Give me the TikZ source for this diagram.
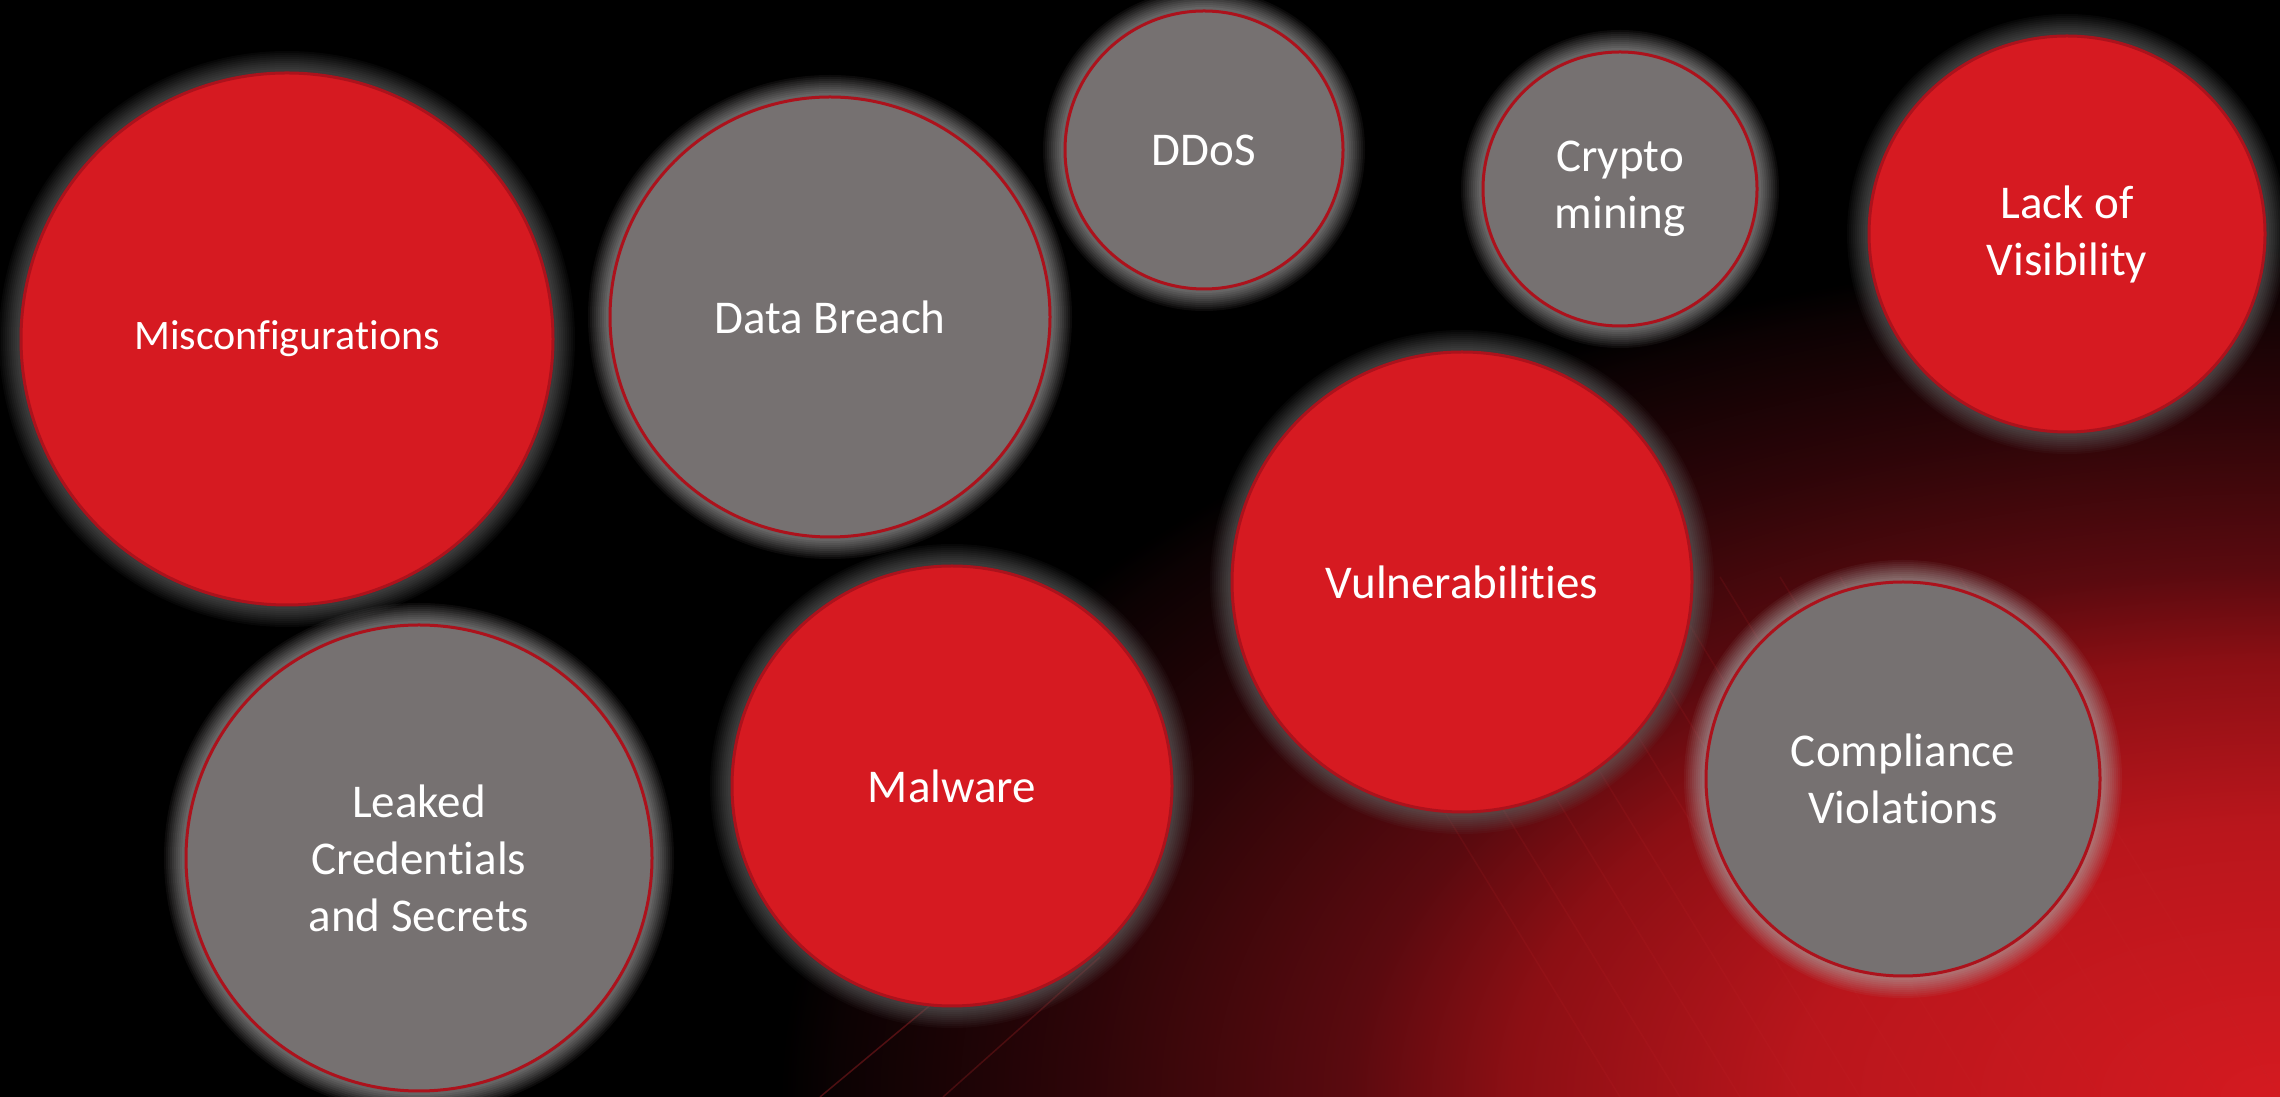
\documentclass[tikz,border=0pt]{standalone}
\usepackage{fontspec}
\setmainfont[Ligatures=NoCommon]{Carlito}

\definecolor{hotfill}{RGB}{214,26,33}
\definecolor{coolfill}{RGB}{118,113,113}
\definecolor{rim}{RGB}{172,18,28}
\definecolor{hothalo}{RGB}{100,100,100}
\definecolor{coolhalo}{RGB}{170,168,168}
\definecolor{glowA}{RGB}{212,26,32}
\definecolor{glowB}{RGB}{185,22,28}
\definecolor{glowC}{RGB}{140,15,20}
\definecolor{glowD}{RGB}{90,10,15}
\definecolor{glowE}{RGB}{45,5,8}
\definecolor{glowF}{RGB}{12,2,3}
\definecolor{streak}{RGB}{200,40,45}

% backdrop: red glow from the lower right corner
\pgfdeclareradialshading{backglow}{\pgfpoint{0bp}{0bp}}{color(0bp)=(glowA); color(8bp)=(glowB); color(12.8bp)=(glowC); color(15.5bp)=(glowD); color(20bp)=(glowE); color(24bp)=(glowF); color(25bp)=(black); color(50bp)=(black)}

\tikzset{
  bubble/.style={circle, inner sep=0pt, draw=rim, line width=3pt, text=white, align=center,
    font=\fontsize{47}{57}\selectfont},
  halo/.style={
    preaction={draw=#1, line width=44pt, draw opacity=.07},
    preaction={draw=#1, line width=40pt, draw opacity=.07},
    preaction={draw=#1, line width=36pt, draw opacity=.08},
    preaction={draw=#1, line width=32pt, draw opacity=.08},
    preaction={draw=#1, line width=28pt, draw opacity=.09},
    preaction={draw=#1, line width=24pt, draw opacity=.09},
    preaction={draw=#1, line width=20pt, draw opacity=.1},
    preaction={draw=#1, line width=16pt, draw opacity=.1},
    preaction={draw=#1, line width=12pt, draw opacity=.11},
    preaction={draw=#1, line width=8pt, draw opacity=.12}},
  hot/.style={bubble, fill=hotfill, halo=hothalo},
  cool/.style={bubble, fill=coolfill, halo=coolhalo}
}

\begin{document}
\begin{tikzpicture}[x=1pt,y=1pt]
  \useasboundingbox (0,0) rectangle (2280,1097);
  \fill[black] (0,0) rectangle (2280,1097);
  \begin{scope}
    \clip (0,0) rectangle (2280,1097);
    \shade[shading=backglow] (2280,0) ellipse (1500 and 850);
    % faint streaks
    \foreach \s in {0,60,...,660}
      \draw[streak, opacity=.12, line width=1.5pt] (1620+\s,0) -- (1300+\s,520);
    \draw[streak, opacity=.35, line width=1.5pt] (820,0) -- (1000,150);
    \draw[streak, opacity=.25, line width=1.5pt] (943,0) -- (1100,140);
  \end{scope}

  \node[hot,  minimum size=532pt, font=\fontsize{42}{50}\selectfont] (miscfg) at (287,758) {Misconfigurations};
  \node[cool, minimum size=440pt] (breach)  at (830,780)  {Data Breach};
  \node[cool, minimum size=278pt] (ddos)    at (1204,947) {DDoS};
  \node[cool, minimum size=274pt] (crypto)  at (1620,908) {Crypto\\mining};
  \node[hot,  minimum size=396pt] (visib)   at (2067,863) {Lack of\\Visibility};
  \node[hot,  minimum size=460pt] (vuln)    at (1462,515) {Vulnerabilities};
  \node[cool, minimum size=394pt] (compl)   at (1903,318) {Compliance\\Violations};
  \node[hot,  minimum size=440pt] (malware) at (952,311)  {Malware};
  \node[cool, minimum size=466pt] (leaked)  at (419,239)  {Leaked\\Credentials\\and Secrets};

\end{tikzpicture}
\end{document}
